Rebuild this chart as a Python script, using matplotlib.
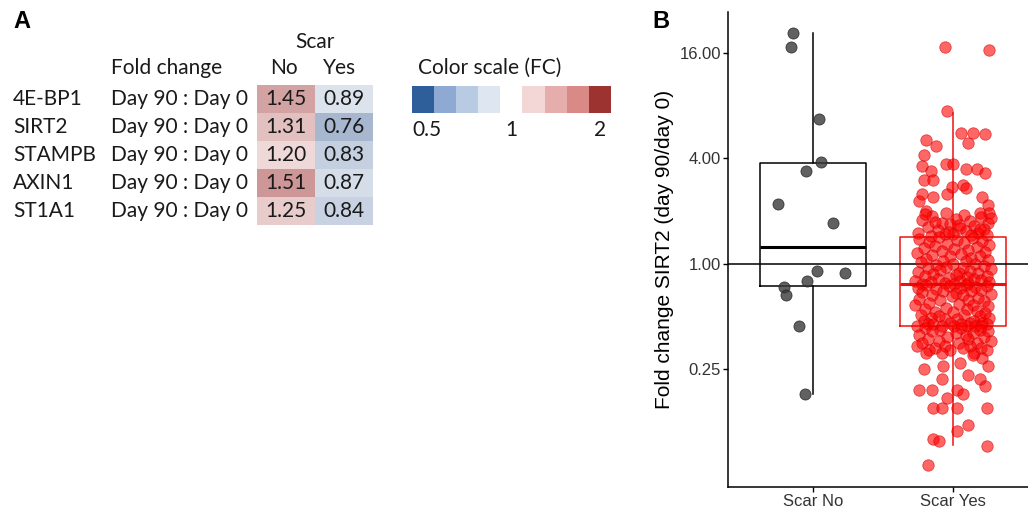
import numpy as np
import matplotlib
matplotlib.use("Agg")
import matplotlib.pyplot as plt
from matplotlib.colors import LinearSegmentedColormap, ListedColormap
from matplotlib.ticker import NullLocator

# ---- panel A data ----
genes = ["4E-BP1", "SIRT2", "STAMPB", "AXIN1", "ST1A1"]
ratio_label = "Day 90 : Day 0"
fc_no = [1.45, 1.31, 1.20, 1.51, 1.25]
fc_yes = [0.89, 0.76, 0.83, 0.87, 0.84]
legend_ticks = ["0.5", "1", "2"]

# ---- panel B data (fold change SIRT2) ----
groups = ["Scar No", "Scar Yes"]
y_ticks = [0.25, 1, 4, 16]

no_fc = [20.8, 17.3, 6.7, 3.79, 3.37, 2.2, 1.71, 0.91, 0.89, 0.80, 0.74, 0.66, 0.44, 0.18]
no_dx = [-0.14, -0.16, 0.04, 0.06, -0.05, -0.25, 0.14, 0.03, 0.23, -0.04, -0.21, -0.19, -0.10, -0.06]

yes_fc = [
    # upper tail
    17.4, 16.7, 7.5, 5.1, 4.7, 5.6, 5.6, 5.5, 4.9, 4.2,
    3.6, 3.4, 3.0, 3.0, 3.7, 3.7, 3.5, 3.5, 3.3, 2.75,
    2.8, 2.7, 2.5, 2.4, 2.5, 2.4, 2.27, 2.17, 2.0, 1.96, 1.96,
    # above upper hinge
    1.95, 1.90, 1.88, 1.85, 1.80, 1.78, 1.75, 1.72, 1.70, 1.68,
    1.65, 1.62, 1.60, 1.58, 1.55, 1.53, 1.50, 1.50, 1.48, 1.47,
    1.45, 1.92, 1.83, 1.74, 1.66, 1.57, 1.52, 1.46, 1.44,
    # upper half of box
    1.42, 1.40, 1.38, 1.36, 1.35, 1.33, 1.31, 1.30, 1.28, 1.27,
    1.25, 1.23, 1.22, 1.20, 1.19, 1.17, 1.15, 1.14, 1.12, 1.11,
    1.10, 1.08, 1.07, 1.05, 1.04, 1.03, 1.02, 1.00, 0.99, 0.98,
    0.97, 0.96, 0.95, 0.94, 0.93, 0.92, 0.91, 0.90, 0.89, 0.88,
    0.87, 0.86, 0.85, 0.85, 0.84, 0.83, 0.82, 0.82, 0.81, 0.80,
    0.80, 0.79, 0.79, 0.78, 0.78, 0.77, 0.77,
    # lower half of box
    0.76, 0.76, 0.75, 0.75, 0.74, 0.73, 0.73, 0.72, 0.71, 0.70,
    0.70, 0.69, 0.68, 0.67, 0.66, 0.66, 0.65, 0.64, 0.63, 0.62,
    0.62, 0.61, 0.60, 0.59, 0.58, 0.58, 0.57, 0.56, 0.55, 0.55,
    0.54, 0.53, 0.53, 0.52, 0.51, 0.51, 0.50, 0.50, 0.49, 0.49,
    0.48, 0.48, 0.47, 0.47, 0.46, 0.46, 0.46, 0.45, 0.45, 0.45,
    0.45, 0.44, 0.44, 0.44, 0.44, 0.44, 0.44,
    # below lower hinge
    0.43, 0.43, 0.42, 0.42, 0.41, 0.41, 0.40, 0.40, 0.39, 0.39,
    0.38, 0.38, 0.37, 0.37, 0.36, 0.36, 0.35, 0.35, 0.35, 0.34,
    0.34, 0.34, 0.33, 0.33, 0.33, 0.32, 0.32, 0.32, 0.31, 0.31,
    # lower tail
    0.31, 0.30, 0.29, 0.27, 0.26, 0.26, 0.25, 0.23, 0.22, 0.22,
    0.20, 0.19, 0.19, 0.19, 0.18, 0.17, 0.15, 0.15, 0.15, 0.15,
    0.12, 0.11, 0.10, 0.097, 0.091, 0.071,
]
yes_dx = [
    -0.06, 0.26, -0.04, -0.19, -0.12, 0.06, 0.14, 0.23, 0.11, -0.21,
    -0.22, -0.16, -0.21, -0.14, -0.05, 0.00, 0.09, 0.17, 0.23, -0.01,
    0.07, 0.09, -0.22, -0.14, -0.04, 0.21, -0.24, 0.25, -0.19, 0.19, 0.26,
    -0.05, 0.08, -0.15, 0.20, 0.02, -0.22, 0.12, -0.08, 0.25, -0.02,
    0.15, -0.18, 0.05, 0.22, -0.11, 0.09, -0.25, 0.18, 0.00, -0.06,
    0.13, -0.20, 0.27, -0.13, 0.04, 0.19, -0.03, 0.24, -0.16,
    -0.10, 0.14, -0.24, 0.03, 0.21, -0.17, 0.08, -0.04, 0.26, -0.13,
    0.17, -0.21, 0.01, 0.11, -0.08, 0.23, -0.26, 0.06, -0.15, 0.19,
    -0.02, 0.13, -0.19, 0.25, -0.07, 0.09, -0.23, 0.16, 0.00, -0.12,
    0.22, -0.05, 0.07, -0.18, 0.27, -0.09, 0.12, -0.25, 0.04, 0.18,
    -0.14, 0.02, 0.24, -0.20, 0.10, -0.03, 0.15, -0.11, 0.20, -0.27,
    0.05, -0.16, 0.26, -0.06, 0.11, -0.22, 0.01,
    0.09, -0.19, 0.24, -0.03, 0.16, -0.25, 0.05, -0.12, 0.20, -0.07,
    0.13, -0.22, 0.02, 0.27, -0.15, 0.07, -0.01, 0.18, -0.24, 0.11,
    -0.09, 0.22, -0.17, 0.04, 0.14, -0.27, 0.25, -0.05, 0.10, -0.20,
    0.17, -0.13, 0.00, 0.23, -0.23, 0.08, -0.10, 0.19, -0.16, 0.26,
    0.03, -0.06, 0.15, -0.21, 0.12, -0.02, 0.21, -0.18, 0.06, 0.24,
    -0.14, 0.10, -0.26, 0.16, -0.08, 0.01, 0.20,
    -0.20, 0.06, 0.19, -0.09, 0.25, -0.15, 0.02, 0.14, -0.24, 0.09,
    -0.04, 0.22, -0.18, 0.11, -0.10, 0.27, 0.04, -0.22, 0.17, -0.06,
    0.12, -0.26, 0.20, -0.13, 0.07, -0.02, 0.24, -0.17, 0.15, -0.08,
    -0.19, 0.14, 0.21, 0.05, -0.07, 0.25, -0.21, 0.11, -0.08, 0.19,
    0.23, 0.03, -0.24, -0.15, 0.07, -0.04, -0.14, -0.08, 0.03, 0.24,
    0.11, 0.03, -0.14, -0.10, 0.24, -0.18,
]

# box statistics
box_q1 = [0.75, 0.44]
box_med = [1.25, 0.77]
box_q3 = [3.75, 1.43]
box_lo = [0.18, 0.092]
box_hi = [20.8, 7.3]

W, H = 1028, 508
fig = plt.figure(figsize=(W / 100, H / 100), dpi=100)


def px_axes(x0, y0, x1, y1):
    return fig.add_axes([x0 / W, 1 - y1 / H, (x1 - x0) / W, (y1 - y0) / H])


# ---------------- panel A ----------------
fontA = "Lato"
fsA = 15
txt = "#1a1a1a"
heat_cmap = LinearSegmentedColormap.from_list("fc", [
    (0.0, "#2f5f9a"), (0.30, "#a6b6d0"), (0.415, "#dce3ec"), (0.5, "#ffffff"),
    (0.6, "#f4e4e4"), (0.8, "#cd9797"), (1.0, "#9d3431")])

ax_h = px_axes(257, 85, 373, 225)
mat = np.log2(np.column_stack([fc_no, fc_yes]))
ax_h.pcolormesh(mat, cmap=heat_cmap, vmin=-1, vmax=1)
ax_h.set_xlim(0, 2)
ax_h.set_ylim(5, 0)
ax_h.axis("off")
for i, g in enumerate(genes):
    ax_h.text(-4.21, i + 0.5, g, ha="left", va="center", fontsize=fsA, family=fontA, color=txt, clip_on=False)
    ax_h.text(-2.52, i + 0.5, ratio_label, ha="left", va="center", fontsize=fsA, family=fontA, color=txt, clip_on=False)
    ax_h.text(0.5, i + 0.5, f"{fc_no[i]:.2f}", ha="center", va="center", fontsize=fsA, family=fontA, color=txt)
    ax_h.text(1.5, i + 0.5, f"{fc_yes[i]:.2f}", ha="center", va="center", fontsize=fsA, family=fontA, color=txt)
ax_h.text(-2.52, -0.61, "Fold change", ha="left", va="center", fontsize=fsA, family=fontA, color=txt, clip_on=False)
ax_h.text(0.47, -0.61, "No", ha="center", va="center", fontsize=fsA, family=fontA, color=txt, clip_on=False)
ax_h.text(1.43, -0.61, "Yes", ha="center", va="center", fontsize=fsA, family=fontA, color=txt, clip_on=False)
ax_h.text(1.0, -1.54, "Scar", ha="center", va="center", fontsize=fsA, family=fontA, color=txt, clip_on=False)

# colour scale legend
legend_colors = ["#2f5f9a", "#8eaad3", "#b8cbe3", "#dde6f1", "#ffffff",
                 "#f3d7d7", "#e5adac", "#d98986", "#9c3330"]
ax_l = px_axes(412, 86, 611, 113)
ax_l.imshow(np.arange(len(legend_colors))[None, :], cmap=ListedColormap(legend_colors), aspect="auto")
ax_l.axis("off")
ax_l.text(-0.23, -1.17, "Color scale (FC)", ha="left", va="center", fontsize=fsA, family=fontA, color=txt, clip_on=False)
for xpos, lab, ha in zip([-0.5, 4, 8], legend_ticks, ["left", "center", "center"]):
    ax_l.text(xpos, 1.13, lab, ha=ha, va="center", fontsize=fsA, family=fontA, color=txt, clip_on=False)

fig.text(13 / W, 1 - 22 / H, "A", ha="left", va="center", fontsize=17, fontweight="bold", family="Liberation Sans")
fig.text(652 / W, 1 - 22 / H, "B", ha="left", va="center", fontsize=17, fontweight="bold", family="Liberation Sans")

# ---------------- panel B ----------------
ax = px_axes(728, 12, 1028, 487)
ax.set_yscale("log", base=2)
colors = ["black", "#ee1111"]
stats = [dict(q1=box_q1[k], med=box_med[k], q3=box_q3[k], whislo=box_lo[k], whishi=box_hi[k], fliers=[])
         for k in range(2)]
bp = ax.bxp(stats, positions=[1, 2], widths=0.76, showfliers=False, showcaps=False)
for k, c in enumerate(colors):
    bp["boxes"][k].set(color=c, linewidth=1.1)
    bp["medians"][k].set(color=c, linewidth=2.2)
    for w in bp["whiskers"][2 * k:2 * k + 2]:
        w.set(color=c, linewidth=1.1)

ax.axhline(1, color="black", linewidth=1.1, zorder=2.5)
ax.scatter(1 + np.array(no_dx), no_fc, s=64, color="#3a3a3a", alpha=0.8,
           edgecolors="#222222", linewidths=0.6, zorder=3)
ax.scatter(2 + np.array(yes_dx), yes_fc, s=68, color="#ff0000", alpha=0.6,
           edgecolors="#d00000", linewidths=0.6, zorder=3)

ax.set_xlim(0.393, 2.536)
ax.set_ylim(2 ** -4.24, 2 ** 4.78)
ax.set_yticks(y_ticks)
ax.set_yticklabels([f"{v:.2f}" for v in y_ticks])
ax.yaxis.set_minor_locator(NullLocator())
ax.set_xticks([1, 2])
ax.set_xticklabels(groups)
ax.tick_params(labelsize=12, labelcolor="#333333", length=3.5, width=1.0, pad=1.5)
for lab in ax.get_xticklabels() + ax.get_yticklabels():
    lab.set_family("Liberation Sans")
ax.set_ylabel("Fold change SIRT2 (day 90/day 0)", fontsize=15, family="Liberation Sans", labelpad=4)
ax.spines["top"].set_visible(False)
ax.spines["right"].set_visible(False)
ax.spines["left"].set_linewidth(1.1)
ax.spines["bottom"].set_linewidth(1.1)

fig.savefig("out.png", dpi=100)
